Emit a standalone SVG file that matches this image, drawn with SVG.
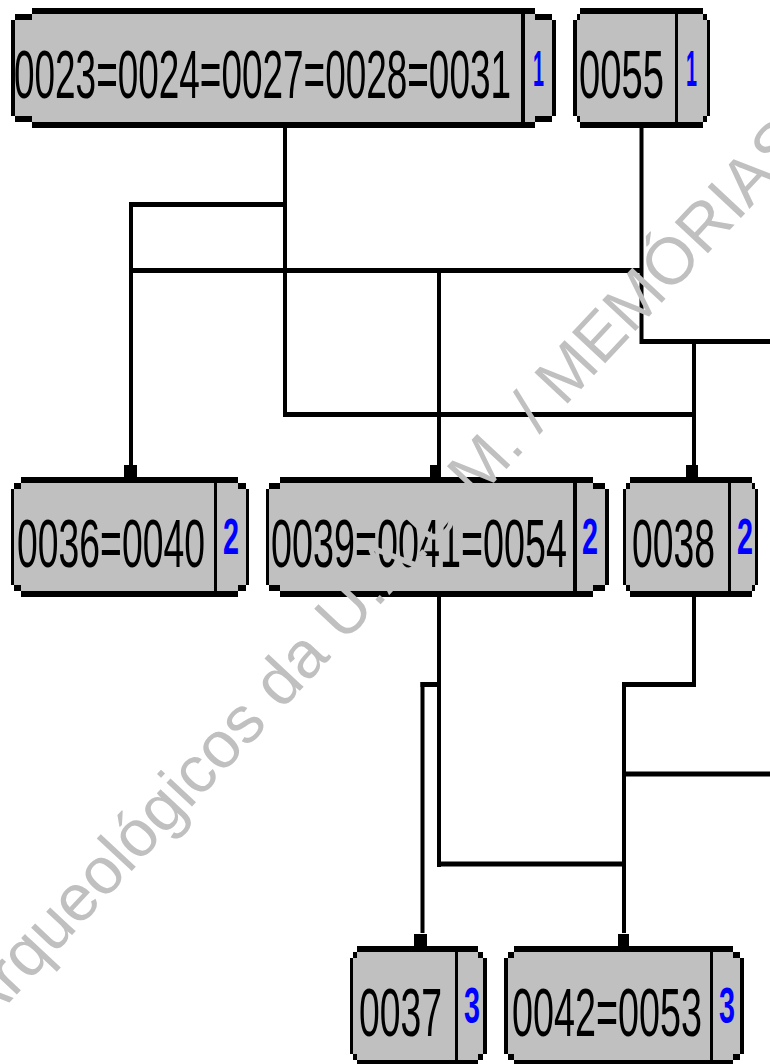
<svg xmlns="http://www.w3.org/2000/svg" width="770" height="1064" viewBox="0 0 770 1064">
<style>
.f{fill:#c0c0c0}
.k{fill:#000}
.t{font-family:"Liberation Sans Narrow","Liberation Sans",Arial,sans-serif;fill:#000}
.n{font-family:"Liberation Sans Narrow","Liberation Sans",Arial,sans-serif;font-weight:bold;fill:#0000ff}
.h{stroke:#000;stroke-width:5;fill:none}
.v{stroke:#000;stroke-width:4;fill:none}
.wm{font-family:"Liberation Sans",Arial,sans-serif;font-size:66px;fill:#c0c0c0}
</style>
<rect width="770" height="1064" fill="#fff"/>
<g id="connectors">
<path class="v" d="M285 128V417M131 202V465M439 268V465M641.5 128V344M694 339V465M439 597V867M694 597V687M624 682V933M422.5 682V933"/>
<path class="h" d="M129 204.5H287M129 270.5H643M640 341.5H770M283 414.5H696M420.5 684.5H441M622 684.5H696M622 774H770M437 864H626"/>
<rect class="k" x="124" y="465" width="13" height="12"/>
<rect class="k" x="430" y="465" width="11" height="12"/>
<rect class="k" x="686" y="465" width="12" height="12"/>
<rect class="k" x="414" y="934" width="13" height="12"/>
<rect class="k" x="618" y="934" width="11" height="12"/>
</g>
<g id="n0023">
<rect class="f" x="15" y="14" width="537" height="108"/>
<rect class="k" x="32" y="8" width="503" height="6"/><rect class="k" x="32" y="122" width="503" height="6"/>
<rect class="k" x="15" y="14" width="17" height="6"/><rect class="k" x="535" y="14" width="17" height="6"/>
<rect class="k" x="15" y="116" width="17" height="6"/><rect class="k" x="535" y="116" width="17" height="6"/>
<rect class="k" x="11" y="20" width="4" height="96"/><rect class="k" x="552" y="20" width="4" height="96"/>
<rect class="k" x="521" y="14" width="4" height="108"/>
<text class="t" x="14" y="98" font-size="68" textLength="497" lengthAdjust="spacingAndGlyphs">0023=0024=0027=0028=0031</text>
<text class="n" x="533" y="86" font-size="50" textLength="11" lengthAdjust="spacingAndGlyphs">1</text>
</g>
<g id="n0055">
<rect class="f" x="577" y="14" width="130" height="108"/>
<rect class="k" x="580" y="8" width="123" height="6"/><rect class="k" x="580" y="122" width="123" height="6"/>
<rect class="k" x="577" y="14" width="3" height="6"/><rect class="k" x="703" y="14" width="4" height="6"/>
<rect class="k" x="577" y="116" width="3" height="6"/><rect class="k" x="703" y="116" width="4" height="6"/>
<rect class="k" x="573" y="20" width="4" height="96"/><rect class="k" x="707" y="20" width="3" height="96"/>
<rect class="k" x="675" y="14" width="3" height="108"/>
<text class="t" x="579" y="98" font-size="68" textLength="85" lengthAdjust="spacingAndGlyphs">0055</text>
<text class="n" x="686" y="86" font-size="50" textLength="11" lengthAdjust="spacingAndGlyphs">1</text>
</g>
<g id="n0036">
<rect class="f" x="14" y="483" width="232" height="108"/>
<rect class="k" x="21" y="477" width="217" height="6"/><rect class="k" x="21" y="591" width="217" height="6"/>
<rect class="k" x="14" y="483" width="7" height="6"/><rect class="k" x="238" y="483" width="8" height="6"/>
<rect class="k" x="14" y="585" width="7" height="6"/><rect class="k" x="238" y="585" width="8" height="6"/>
<rect class="k" x="11" y="489" width="3" height="96"/><rect class="k" x="246" y="489" width="3" height="96"/>
<rect class="k" x="214" y="483" width="3" height="108"/>
<text class="t" x="17" y="567" font-size="68" textLength="188" lengthAdjust="spacingAndGlyphs">0036=0040</text>
<text class="n" x="223" y="554" font-size="50" textLength="16" lengthAdjust="spacingAndGlyphs">2</text>
</g>
<g id="n0039">
<rect class="f" x="269" y="483" width="336" height="108"/>
<rect class="k" x="280" y="477" width="313" height="6"/><rect class="k" x="280" y="591" width="313" height="6"/>
<rect class="k" x="269" y="483" width="11" height="6"/><rect class="k" x="593" y="483" width="12" height="6"/>
<rect class="k" x="269" y="585" width="11" height="6"/><rect class="k" x="593" y="585" width="12" height="6"/>
<rect class="k" x="266" y="489" width="3" height="96"/><rect class="k" x="605" y="489" width="4" height="96"/>
<rect class="k" x="573" y="483" width="4" height="108"/>
<text class="t" x="271" y="567" font-size="68" textLength="296" lengthAdjust="spacingAndGlyphs">0039=0041=0054</text>
<text class="n" x="582" y="554" font-size="50" textLength="16" lengthAdjust="spacingAndGlyphs">2</text>
</g>
<g id="n0038">
<rect class="f" x="626" y="483" width="129" height="108"/>
<rect class="k" x="630" y="477" width="122" height="6"/><rect class="k" x="630" y="591" width="122" height="6"/>
<rect class="k" x="626" y="483" width="4" height="6"/><rect class="k" x="752" y="483" width="3" height="6"/>
<rect class="k" x="626" y="585" width="4" height="6"/><rect class="k" x="752" y="585" width="3" height="6"/>
<rect class="k" x="623" y="489" width="3" height="96"/><rect class="k" x="755" y="489" width="3" height="96"/>
<rect class="k" x="728" y="483" width="3" height="108"/>
<text class="t" x="632" y="567" font-size="68" textLength="83" lengthAdjust="spacingAndGlyphs">0038</text>
<text class="n" x="737" y="554" font-size="50" textLength="16" lengthAdjust="spacingAndGlyphs">2</text>
</g>
<g id="n0037">
<rect class="f" x="353" y="952" width="130" height="108"/>
<rect class="k" x="357" y="946" width="121" height="6"/><rect class="k" x="357" y="1060" width="121" height="6"/>
<rect class="k" x="353" y="952" width="4" height="6"/><rect class="k" x="478" y="952" width="5" height="6"/>
<rect class="k" x="353" y="1054" width="4" height="6"/><rect class="k" x="478" y="1054" width="5" height="6"/>
<rect class="k" x="350" y="958" width="3" height="96"/><rect class="k" x="483" y="958" width="4" height="96"/>
<rect class="k" x="455" y="952" width="3" height="108"/>
<text class="t" x="359" y="1036" font-size="68" textLength="83" lengthAdjust="spacingAndGlyphs">0037</text>
<text class="n" x="464" y="1023" font-size="50" textLength="16" lengthAdjust="spacingAndGlyphs">3</text>
</g>
<g id="n0042">
<rect class="f" x="508" y="952" width="232" height="108"/>
<rect class="k" x="514" y="946" width="219" height="6"/><rect class="k" x="514" y="1060" width="219" height="6"/>
<rect class="k" x="508" y="952" width="6" height="6"/><rect class="k" x="733" y="952" width="7" height="6"/>
<rect class="k" x="508" y="1054" width="6" height="6"/><rect class="k" x="733" y="1054" width="7" height="6"/>
<rect class="k" x="504" y="958" width="4" height="96"/><rect class="k" x="740" y="958" width="4" height="96"/>
<rect class="k" x="710" y="952" width="3" height="108"/>
<text class="t" x="512" y="1036" font-size="68" textLength="190" lengthAdjust="spacingAndGlyphs">0042=0053</text>
<text class="n" x="719" y="1023" font-size="50" textLength="16" lengthAdjust="spacingAndGlyphs">3</text>
</g>
<g id="watermark">
<text class="wm" transform="translate(545,428) rotate(-47)" x="-823" y="0">Arqueológicos da U.A.U.M. / MEMÓRIAS</text>
</g>
</svg>
